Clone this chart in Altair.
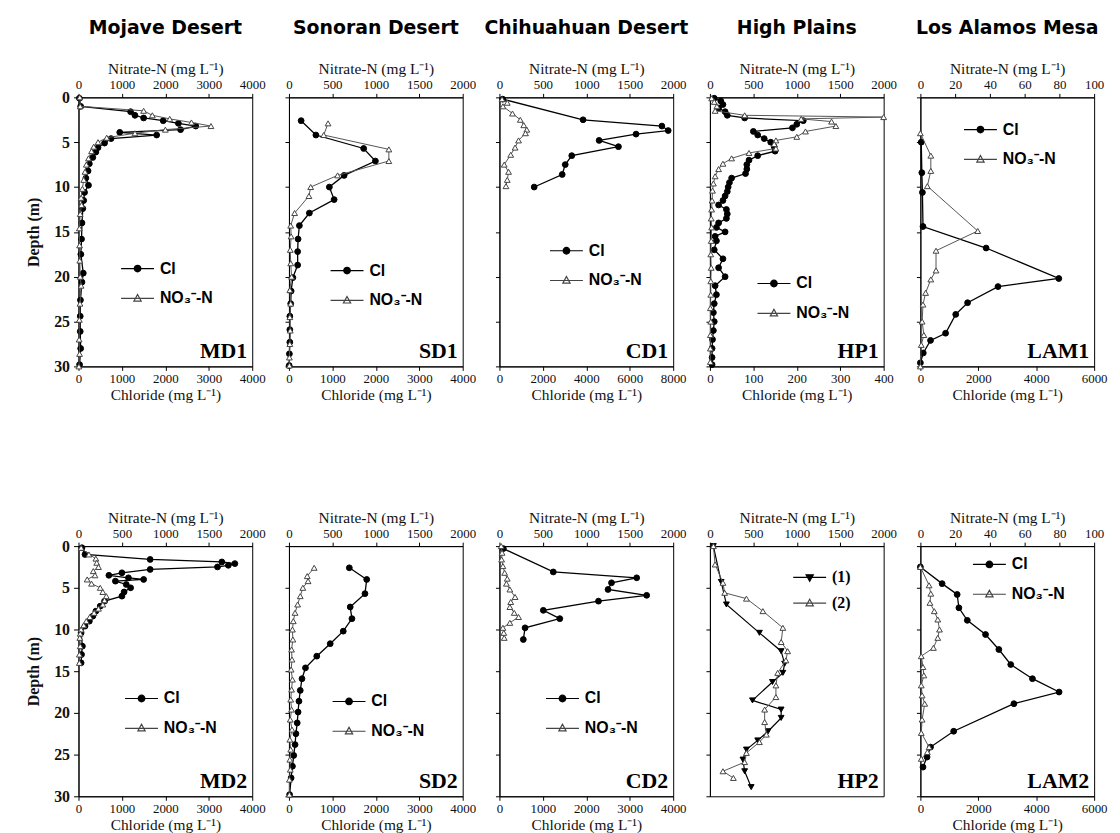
import altair as alt
import pandas as pd

# ---------------- data ----------------
DEPTH_TICKS = [0, 5, 10, 15, 20, 25, 30]
TICKS_0_4000 = [0, 1000, 2000, 3000, 4000]
TICKS_0_2000 = [0, 500, 1000, 1500, 2000]
TICKS_0_8000 = [0, 2000, 4000, 6000, 8000]
TICKS_0_400 = [0, 100, 200, 300, 400]
TICKS_0_6000 = [0, 2000, 4000, 6000]
TICKS_0_100 = [0, 20, 40, 60, 80, 100]

REGIONS = ["Mojave Desert", "Sonoran Desert", "Chihuahuan Desert", "High Plains", "Los Alamos Mesa"]
SITES_TOP = ["MD1", "SD1", "CD1", "HP1", "LAM1"]
SITES_BOTTOM = ["MD2", "SD2", "CD2", "HP2", "LAM2"]
SERIES = ["Cl", "NO\u2083\u207b-N"]
HP2_SERIES = ["(1)", "(2)"]

MD1_CL_DEPTH = [0.1, 1.0, 1.6, 2.0, 2.3, 2.6, 2.9, 3.2, 3.6, 3.9, 4.2, 4.6, 5.1, 5.6, 6.1, 6.7, 7.4, 8.2, 9.0, 9.8, 10.6, 11.5, 12.4, 14.0, 15.8, 17.5, 19.6, 20.6, 22.6, 24.4, 26.1, 28.0, 29.8]
MD1_CL = [20, 50, 1200, 1300, 1500, 1950, 2300, 2700, 2350, 950, 1800, 750, 600, 450, 400, 330, 250, 220, 170, 230, 140, 120, 100, 80, 70, 55, 110, 80, 45, 40, 40, 50, 25]
MD1_NO3_DEPTH = [0.0, 1.0, 1.5, 2.0, 2.4, 2.8, 3.2, 3.6, 4.0, 4.5, 5.0, 5.5, 6.0, 6.8, 7.5, 8.3, 9.2, 10.2, 11.2, 12.0, 13.0, 14.6, 16.5, 18.2, 20.0, 21.0, 23.0, 24.8, 27.0, 28.6, 30.0]
MD1_NO3 = [30, 40, 1500, 1700, 2100, 2600, 3050, 2000, 1300, 650, 450, 350, 300, 230, 180, 150, 120, 90, 60, 70, 40, 20, 25, 30, 40, 60, 35, 20, 15, 25, 10]

SD1_CL_DEPTH = [2.6, 4.2, 5.7, 7.1, 8.7, 10.0, 11.4, 12.9, 14.3, 15.8, 17.2, 18.7, 20.1, 21.6, 23.0, 24.4, 25.9, 27.3, 28.6, 29.9]
SD1_CL = [280, 620, 1720, 1990, 1270, 930, 1040, 470, 240, 210, 200, 200, 90, 50, 40, 20, 20, 20, 10, 5]
SD1_NO3_DEPTH = [2.9, 4.2, 5.8, 7.1, 8.7, 10.0, 11.0, 12.9, 14.3, 15.5, 17.0, 18.5, 20.0, 21.5, 23.0, 24.5, 26.0, 27.5, 29.0, 29.9]
SD1_NO3 = [450, 400, 1150, 1150, 560, 250, 230, 65, 20, 25, 15, 20, 30, 10, 20, 10, 15, 10, 5, 5]

CD1_CL_DEPTH = [0.2, 2.5, 3.2, 3.7, 4.1, 4.8, 5.5, 6.5, 7.5, 8.6, 10.0]
CD1_CL = [150, 3850, 7480, 7770, 6290, 4590, 5480, 3330, 3030, 2890, 1600]
CD1_NO3_DEPTH = [0.2, 0.6, 1.0, 1.8, 2.5, 3.1, 3.6, 4.0, 4.8, 5.6, 6.4, 7.5, 8.3, 9.2, 9.9]
CD1_NO3 = [30, 90, 40, 150, 240, 280, 315, 300, 220, 180, 130, 55, 105, 90, 75]

HP1_CL_DEPTH = [0.1, 0.4, 0.8, 1.2, 1.6, 2.0, 2.3, 2.6, 3.0, 3.4, 3.8, 4.2, 4.6, 5.0, 5.5, 6.0, 6.5, 7.0, 7.5, 8.0, 8.5, 9.0, 9.5, 10.0, 10.5, 11.0, 11.5, 12.0, 12.5, 13.0, 13.5, 14.0, 14.5, 15.0, 15.5, 16.0, 17.0, 18.0, 19.0, 20.0, 21.0, 22.0, 23.0, 24.0, 25.0, 26.0, 27.0, 28.0, 29.0, 29.8]
HP1_CL = [10, 25, 30, 20, 35, 40, 80, 215, 200, 190, 100, 110, 125, 140, 148, 150, 110, 90, 85, 85, 82, 50, 45, 42, 40, 35, 30, 20, 38, 40, 38, 20, 15, 35, 12, 15, 10, 30, 20, 35, 12, 15, 10, 8, 10, 8, 6, 5, 5, 5]
HP1_NO3_DEPTH = [0.1, 0.5, 1.0, 1.5, 2.0, 2.2, 2.4, 2.7, 3.2, 3.8, 4.4, 4.8, 5.2, 5.7, 6.2, 6.8, 7.4, 8.0, 8.8, 9.6, 10.4, 11.5, 12.5, 13.5, 14.5, 16.0, 17.5, 19.0, 20.5, 22.0, 23.5, 25.0, 26.5, 28.0, 29.5]
HP1_NO3 = [20, 50, 80, 60, 400, 2000, 1050, 1400, 1450, 1100, 1000, 760, 740, 760, 450, 250, 150, 100, 60, 40, 30, 25, 20, 15, 20, 15, 10, 15, 10, 10, 5, 10, 5, 5, 5]

LAM1_CL_DEPTH = [5.0, 8.4, 10.6, 14.4, 16.8, 20.2, 21.1, 22.9, 24.2, 26.3, 27.1, 28.5, 29.6]
LAM1_CL = [30, 50, 70, 90, 2270, 4780, 2680, 1630, 1220, 870, 350, 100, 0]
LAM1_NO3_DEPTH = [4.0, 6.5, 8.2, 9.9, 14.9, 17.1, 19.3, 20.3, 21.8, 23.1, 25.0, 26.5, 27.6, 30.0]
LAM1_NO3 = [0, 6, 6, 4, 33, 9, 9, 6, 3, 1.5, 1, 2, 0.5, 0]

MD2_CL_DEPTH = [0.2, 1.0, 1.6, 1.9, 2.1, 2.3, 2.5, 2.8, 3.2, 3.5, 3.8, 4.0, 4.2, 4.6, 5.0, 5.5, 6.0, 6.6, 7.2, 7.8, 8.4, 9.0, 9.6, 10.4, 12.0, 13.0, 14.0]
MD2_CL = [80, 150, 1650, 3300, 3600, 3450, 3200, 1650, 1000, 700, 1150, 1500, 850, 1100, 1200, 1050, 1000, 600, 500, 400, 330, 250, 150, 60, 90, 70, 60]
MD2_NO3_DEPTH = [0.2, 1.0, 1.5, 2.0, 2.5, 3.0, 3.5, 4.0, 4.5, 5.0, 5.5, 6.0, 6.5, 7.0, 7.5, 8.0, 8.5, 9.0, 9.5, 10.0, 10.5, 11.0, 12.0, 13.0, 14.0]
MD2_NO3 = [30, 120, 200, 210, 230, 170, 190, 100, 150, 250, 280, 320, 300, 280, 230, 180, 130, 90, 60, 30, 20, 15, 20, 10, 10]

SD2_CL_DEPTH = [2.6, 4.0, 5.7, 7.3, 8.7, 10.2, 11.7, 13.2, 14.6, 15.9, 17.3, 18.6, 19.9, 21.2, 22.5, 23.8, 25.1, 26.4, 27.8, 29.8]
SD2_CL = [1390, 1790, 1750, 1410, 1450, 1250, 950, 640, 380, 300, 260, 230, 210, 190, 160, 140, 110, 80, 50, 15]
SD2_NO3_DEPTH = [2.6, 3.6, 4.2, 5.0, 6.0, 7.0, 8.0, 9.0, 10.0, 11.2, 12.4, 13.6, 14.8, 16.0, 17.2, 18.4, 19.6, 20.8, 22.0, 23.2, 24.4, 25.6, 26.8, 28.0, 29.8]
SD2_NO3 = [290, 210, 220, 160, 130, 100, 70, 50, 40, 45, 30, 35, 25, 40, 30, 20, 30, 15, 35, 10, 20, 10, 15, 5, 5]

CD2_CL_DEPTH = [0.3, 3.1, 3.8, 4.4, 5.2, 5.9, 6.6, 7.7, 8.7, 9.8, 11.2]
CD2_CL = [90, 1240, 3160, 2580, 2500, 3390, 2280, 1010, 1390, 590, 550]
CD2_NO3_DEPTH = [0.0, 0.8, 1.6, 2.4, 3.2, 3.9, 4.5, 5.2, 6.1, 6.7, 7.3, 8.0, 8.5, 9.2, 9.8, 10.4, 11.0]
CD2_NO3 = [20, 30, 25, 40, 60, 90, 80, 120, 180, 130, 120, 170, 220, 120, 40, 50, 55]

HP2_S1_DEPTH = [0.0, 4.3, 7.0, 10.4, 12.6, 14.1, 15.2, 16.3, 18.5, 19.6, 20.6, 22.2, 23.3, 24.4, 25.6, 27.0, 28.9]
HP2_S1 = [40, 130, 190, 570, 820, 860, 840, 720, 490, 820, 820, 670, 550, 420, 380, 400, 475]
HP2_S2_DEPTH = [0.0, 2.2, 4.4, 5.6, 6.3, 7.8, 9.8, 11.5, 12.6, 13.7, 15.2, 16.7, 18.1, 19.6, 21.1, 22.6, 23.5, 24.8, 25.9, 27.0, 27.8]
HP2_S2 = [40, 60, 150, 170, 420, 610, 840, 820, 895, 875, 780, 760, 760, 630, 630, 650, 570, 420, 400, 150, 270]

LAM2_CL_DEPTH = [2.5, 4.5, 5.8, 7.4, 8.9, 10.6, 12.4, 14.2, 15.9, 17.5, 18.9, 22.2, 24.1, 25.3, 26.5]
LAM2_CL = [0, 750, 1270, 1330, 1620, 2250, 2710, 3120, 3870, 4790, 3230, 1150, 350, 230, 90]
LAM2_NO3_DEPTH = [2.5, 4.7, 5.7, 6.8, 7.8, 8.8, 10.0, 11.0, 12.2, 13.2, 14.5, 15.5, 16.7, 17.9, 18.9, 20.8, 22.4, 24.1, 24.7, 25.5]
LAM2_NO3 = [0, 5, 6, 5.5, 8, 10, 11, 10, 7.5, 0.5, 1.5, 2, 0.5, 1, 2.5, 1, 0.5, 5, 4, 0.5]

# ---------------- styling ----------------
SERIF = "Liberation Serif"
SANS = "Liberation Sans"
TITLE_FONT = "DejaVu Sans"
W = 175
H_TOP = 271
H_BOTTOM = 252
ROW_STEP = 452
CL_TITLE = "Chloride (mg L\u207b\u00b9)"
NO3_TITLE = "Nitrate-N (mg L\u207b\u00b9)"
GRAY = "#555555"

PATH_DOT = "M-1,0H1M0.2,0A0.2,0.2,0,1,1,-0.2,0A0.2,0.2,0,1,1,0.2,0Z"
PATH_UP = "M-1,0H1M0,-0.24L0.22,0.16L-0.22,0.16Z"
PATH_DOWN = "M-1,0H1M0,0.24L0.22,-0.16L-0.22,-0.16Z"


def table(depths, values):
    return pd.DataFrame({"depth": depths, "value": values, "idx": list(range(len(depths)))})


def y_channel(first):
    if first:
        axis = alt.Axis(values=DEPTH_TICKS, title="Depth (m)", format="d",
                        labelFontSize=16, labelFontWeight="bold",
                        titleFontSize=16, titleFontWeight="bold",
                        titlePadding=12, tickSize=5, labelPadding=4)
    else:
        axis = alt.Axis(values=DEPTH_TICKS, title=None, labels=False, tickSize=4)
    return alt.Y("depth:Q", scale=alt.Scale(domain=[0, 30], reverse=True, nice=False, zero=False), axis=axis)


def x_channel(domain, ticks, orient, title):
    return alt.X("value:Q", scale=alt.Scale(domain=domain, nice=False),
                 axis=alt.Axis(orient=orient, values=ticks, title=title, format="d",
                               labelOverlap=False, labelFlush=False))


def profile(df, x, y, color, width, shape, fill, stroke):
    return alt.Chart(df).mark_line(
        color=color, strokeWidth=width,
        point=alt.OverlayMarkDef(shape=shape, filled=True, fill=fill, stroke=stroke,
                                 strokeWidth=1, size=34, opacity=1)
    ).encode(x=x, y=y, order=alt.Order("idx:Q"))


def legend_layer(labels, paths, fills, strokes, lx, ly, font, row_pad=4):
    leg = alt.Legend(orient="none", legendX=lx, legendY=ly, title=None,
                     labelFont=font, labelFontSize=16, labelFontWeight="bold",
                     labelColor="black", symbolSize=1100, symbolStrokeWidth=1.2,
                     symbolOpacity=1, rowPadding=row_pad, labelOffset=5, padding=0)
    df = pd.DataFrame({"s": labels})
    return alt.Chart(df).transform_filter("false").mark_point(opacity=1, filled=True).encode(
        shape=alt.Shape("s:N", scale=alt.Scale(domain=labels, range=paths), legend=leg),
        fill=alt.Fill("s:N", scale=alt.Scale(domain=labels, range=fills), legend=leg),
        stroke=alt.Stroke("s:N", scale=alt.Scale(domain=labels, range=strokes), legend=leg),
    )


def site_label(name, h):
    return alt.Chart(pd.DataFrame({"t": [name]})).mark_text(
        font=SERIF, fontSize=22, fontWeight="bold", align="right", baseline="alphabetic", color="black"
    ).encode(text="t:N", x=alt.value(W - 5), y=alt.value(h - 8))


def panel(site, h, first, cl, no3, cl_dom, cl_ticks, no_dom, no_ticks, lx, ly, region=None):
    y = y_channel(first)
    layers = [
        profile(cl, x_channel(cl_dom, cl_ticks, "bottom", CL_TITLE), y, "black", 1.3, "circle", "black", "black"),
        profile(no3, x_channel(no_dom, no_ticks, "top", NO3_TITLE), y, GRAY, 1.0, "triangle-up", "white", "#444444"),
        legend_layer(SERIES, [PATH_DOT, PATH_UP], ["black", "white"], ["black", "#444444"], lx, ly, SANS),
        site_label(site, h),
    ]
    ch = alt.layer(*layers).resolve_scale(x="independent").properties(width=W, height=h)
    if region:
        ch = ch.properties(title=alt.TitleParams(region, font=TITLE_FONT, fontSize=19, fontWeight="bold",
                                                 anchor="middle", offset=24, color="black"))
    return ch


def hp2_panel(h):
    y = y_channel(False)
    x = x_channel([0, 2000], TICKS_0_2000, "top", NO3_TITLE)
    layers = [
        profile(table(HP2_S1_DEPTH, HP2_S1), x, y, "black", 1.2, "triangle-down", "black", "black"),
        profile(table(HP2_S2_DEPTH, HP2_S2), x, y, GRAY, 1.0, "triangle-up", "white", "#444444"),
        legend_layer(HP2_SERIES, [PATH_DOWN, PATH_UP], ["black", "white"], ["black", "#444444"], 83, 14, SERIF, -7),
        site_label(SITES_BOTTOM[3], h),
    ]
    return alt.layer(*layers).properties(width=W, height=h)


top_panels = [
    panel(SITES_TOP[0], H_TOP, True, table(MD1_CL_DEPTH, MD1_CL), table(MD1_NO3_DEPTH, MD1_NO3),
          [0, 4000], TICKS_0_4000, [0, 4000], TICKS_0_4000, 42, 155, REGIONS[0]),
    panel(SITES_TOP[1], H_TOP, False, table(SD1_CL_DEPTH, SD1_CL), table(SD1_NO3_DEPTH, SD1_NO3),
          [0, 4000], TICKS_0_4000, [0, 2000], TICKS_0_2000, 41, 157, REGIONS[1]),
    panel(SITES_TOP[2], H_TOP, False, table(CD1_CL_DEPTH, CD1_CL), table(CD1_NO3_DEPTH, CD1_NO3),
          [0, 8000], TICKS_0_8000, [0, 2000], TICKS_0_2000, 50, 137, REGIONS[2]),
    panel(SITES_TOP[3], H_TOP, False, table(HP1_CL_DEPTH, HP1_CL), table(HP1_NO3_DEPTH, HP1_NO3),
          [0, 400], TICKS_0_400, [0, 2000], TICKS_0_2000, 47, 170, REGIONS[3]),
    panel(SITES_TOP[4], H_TOP, False, table(LAM1_CL_DEPTH, LAM1_CL), table(LAM1_NO3_DEPTH, LAM1_NO3),
          [0, 6000], TICKS_0_6000, [0, 100], TICKS_0_100, 43, 15, REGIONS[4]),
]

bottom_panels = [
    panel(SITES_BOTTOM[0], H_BOTTOM, True, table(MD2_CL_DEPTH, MD2_CL), table(MD2_NO3_DEPTH, MD2_NO3),
          [0, 4000], TICKS_0_4000, [0, 2000], TICKS_0_2000, 46, 136),
    panel(SITES_BOTTOM[1], H_BOTTOM, False, table(SD2_CL_DEPTH, SD2_CL), table(SD2_NO3_DEPTH, SD2_NO3),
          [0, 4000], TICKS_0_4000, [0, 2000], TICKS_0_2000, 43, 139),
    panel(SITES_BOTTOM[2], H_BOTTOM, False, table(CD2_CL_DEPTH, CD2_CL), table(CD2_NO3_DEPTH, CD2_NO3),
          [0, 4000], TICKS_0_4000, [0, 2000], TICKS_0_2000, 46, 136),
    hp2_panel(H_BOTTOM),
    panel(SITES_BOTTOM[4], H_BOTTOM, False, table(LAM2_CL_DEPTH, LAM2_CL), table(LAM2_NO3_DEPTH, LAM2_NO3),
          [0, 6000], TICKS_0_6000, [0, 100], TICKS_0_100, 52, 1),
]

indep = dict(shape="independent", fill="independent", stroke="independent")
row1 = alt.hconcat(*top_panels, spacing=37, bounds="flush").resolve_scale(**indep)
row2 = alt.hconcat(*bottom_panels, spacing=37, bounds="flush").resolve_scale(**indep)

chart = alt.vconcat(row1, row2, spacing=ROW_STEP, bounds="flush").resolve_scale(**indep).properties(
    padding={"left": 17, "top": 7, "right": 4, "bottom": 0},
    background="white",
).configure_view(
    stroke="black", strokeWidth=1
).configure_axis(
    labelFont=SERIF, labelFontSize=13, labelColor="#111111",
    titleFont=SERIF, titleFontSize=15.5, titleFontWeight="normal", titleColor="#111111",
    domainColor="black", tickColor="black", tickSize=4, grid=False,
    labelPadding=2, titlePadding=2,
)

chart.save("out.html", embed_options={"renderer": "svg", "actions": False})
